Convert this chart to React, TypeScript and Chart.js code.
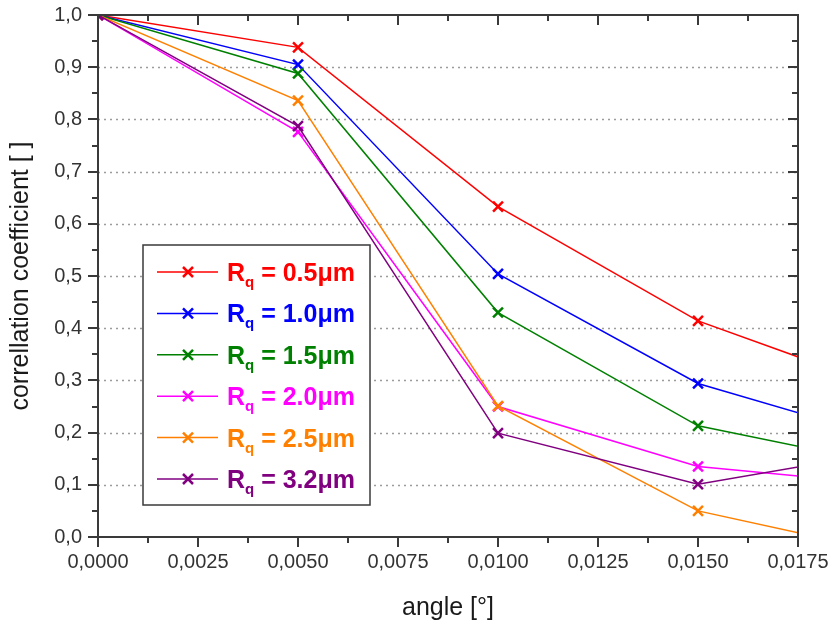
import React, { useEffect, useRef } from 'react';
import { Chart, registerables } from 'chart.js';
Chart.register(...registerables);

// angle values (°) at which the correlation was measured
const angles = [0, 0.005, 0.01, 0.015, 0.02];
const seriesNames = ['0.5μm', '1.0μm', '1.5μm', '2.0μm', '2.5μm', '3.2μm'];
const rq05 = [1.0, 0.938, 0.633, 0.414, 0.276];
const rq10 = [1.0, 0.905, 0.504, 0.294, 0.182];
const rq15 = [1.0, 0.888, 0.43, 0.213, 0.135];
const rq20 = [1.0, 0.776, 0.25, 0.135, 0.099];
const rq25 = [1.0, 0.836, 0.251, 0.05, -0.034];
const rq32 = [1.0, 0.787, 0.199, 0.101, 0.167];
const seriesValues = [rq05, rq10, rq15, rq20, rq25, rq32];
const seriesColors = ['#ff0000', '#0000ff', '#008000', '#ff00ff', '#ff8000', '#800080'];

const xMin = 0;
const xMax = 0.0175;
const xStep = 0.0025;
const yMin = 0;
const yMax = 1;
const yStep = 0.1;

const FONT = "'Liberation Sans', Arial, sans-serif";
const AXIS_COLOR = '#3a3a3a';

const decorPlugin = {
  id: 'decor',
  beforeDatasetsDraw(chart: any) {
    const { ctx, chartArea: a, scales } = chart;
    const y = scales.y;
    ctx.save();
    ctx.strokeStyle = '#9c9c9c';
    ctx.lineWidth = 1.6;
    ctx.setLineDash([2, 4]);
    for (let k = 1; k < 10; k++) {
      const py = Math.round(y.getPixelForValue(yMin + k * yStep)) + 0.5;
      ctx.beginPath();
      ctx.moveTo(a.left, py);
      ctx.lineTo(a.right, py);
      ctx.stroke();
    }
    ctx.restore();
  },
  afterDatasetsDraw(chart: any) {
    const { ctx, chartArea: a, scales } = chart;
    const x = scales.x;
    const y = scales.y;
    ctx.save();
    ctx.strokeStyle = AXIS_COLOR;
    ctx.lineWidth = 2;
    ctx.strokeRect(a.left, a.top, a.right - a.left, a.bottom - a.top);
    ctx.lineWidth = 2;
    const nx = Math.round((xMax - xMin) / (xStep / 2));
    for (let k = 0; k <= nx; k++) {
      const px = Math.round(x.getPixelForValue(xMin + (k * xStep) / 2));
      const len = k % 2 === 0 ? 10 : 6;
      ctx.beginPath();
      ctx.moveTo(px, a.bottom);
      ctx.lineTo(px, a.bottom + len);
      ctx.moveTo(px, a.top);
      ctx.lineTo(px, a.top + len);
      ctx.stroke();
    }
    const ny = Math.round((yMax - yMin) / (yStep / 2));
    for (let k = 0; k <= ny; k++) {
      const py = Math.round(y.getPixelForValue(yMin + (k * yStep) / 2));
      const len = k % 2 === 0 ? 10 : 6;
      ctx.beginPath();
      ctx.moveTo(a.left, py);
      ctx.lineTo(a.left - len, py);
      ctx.moveTo(a.right, py);
      ctx.lineTo(a.right - len, py);
      ctx.stroke();
    }

    // legend
    const bx = a.left + 45;
    const by = a.top + 230;
    const bw = 227;
    const bh = 260;
    ctx.fillStyle = '#ffffff';
    ctx.fillRect(bx, by, bw, bh);
    ctx.strokeStyle = AXIS_COLOR;
    ctx.lineWidth = 1.5;
    ctx.strokeRect(bx, by, bw, bh);
    seriesNames.forEach((name, i) => {
      const cy = by + 27 + i * 41.4;
      const col = seriesColors[i];
      ctx.strokeStyle = col;
      ctx.lineWidth = 1.5;
      ctx.beginPath();
      ctx.moveTo(bx + 14, cy);
      ctx.lineTo(bx + 75, cy);
      ctx.stroke();
      ctx.lineWidth = 2.5;
      const cx = bx + 45;
      const r = 5;
      ctx.beginPath();
      ctx.moveTo(cx - r, cy - r);
      ctx.lineTo(cx + r, cy + r);
      ctx.moveTo(cx - r, cy + r);
      ctx.lineTo(cx + r, cy - r);
      ctx.stroke();
      ctx.fillStyle = col;
      ctx.textBaseline = 'alphabetic';
      ctx.textAlign = 'left';
      let tx = bx + 84;
      ctx.font = `bold 25px ${FONT}`;
      ctx.fillText('R', tx, cy + 9);
      tx += ctx.measureText('R').width;
      ctx.font = `bold 15px ${FONT}`;
      ctx.fillText('q', tx, cy + 15);
      tx += ctx.measureText('q').width;
      ctx.font = `bold 25px ${FONT}`;
      ctx.fillText(' = ' + name, tx, cy + 9);
    });
    ctx.restore();
  },
};

export default function App() {
  const ref = useRef<HTMLCanvasElement | null>(null);
  useEffect(() => {
    if (!ref.current) return;
    const datasets = seriesValues.map((vals, i) => ({
      label: 'Rq = ' + seriesNames[i],
      data: angles.map((a, j) => ({ x: a, y: vals[j] })),
      borderColor: seriesColors[i],
      backgroundColor: seriesColors[i],
      pointBorderColor: seriesColors[i],
      borderWidth: 1.5,
      pointStyle: 'crossRot',
      pointRadius: 7,
      pointBorderWidth: 2.5,
      showLine: true,
      fill: false,
      tension: 0,
      clip: 0,
      order: seriesValues.length - 1 - i,
    }));
    const chart = new Chart(ref.current, {
      type: 'scatter',
      data: { datasets } as any,
      options: {
        animation: false,
        responsive: true,
        maintainAspectRatio: false,
        layout: { padding: { top: 15, right: 37, left: 0, bottom: 0 } },
        plugins: { legend: { display: false }, tooltip: { enabled: false } },
        scales: {
          x: {
            type: 'linear',
            min: xMin,
            max: xMax,
            afterFit: (s: any) => {
              s.height = 88;
              s.paddingLeft = 0;
              s.paddingRight = 0;
              s.paddingTop = 0;
              s.paddingBottom = 0;
            },
            ticks: {
              stepSize: xStep,
              padding: 13,
              color: '#333',
              font: { family: FONT, size: 20 },
              callback: (v: any) => Number(v).toFixed(4).replace('.', ','),
            },
            grid: { display: false, drawTicks: false },
            border: { display: false },
            title: {
              display: true,
              text: 'angle [°]',
              color: '#1a1a1a',
              font: { family: FONT, size: 25 },
              padding: { top: 2, bottom: 2 },
            },
          },
          y: {
            type: 'linear',
            min: yMin,
            max: yMax,
            afterFit: (s: any) => {
              s.width = 98;
              s.paddingLeft = 0;
              s.paddingRight = 0;
              s.paddingTop = 0;
              s.paddingBottom = 0;
            },
            ticks: {
              stepSize: yStep,
              padding: 16,
              color: '#333',
              font: { family: FONT, size: 20 },
              callback: (v: any) => Number(v).toFixed(1).replace('.', ','),
            },
            grid: { display: false, drawTicks: false },
            border: { display: false },
            title: {
              display: true,
              text: 'correllation coefficient [ ]',
              color: '#1a1a1a',
              font: { family: FONT, size: 25 },
              padding: { top: 6, bottom: 6 },
            },
          },
        },
      },
      plugins: [decorPlugin],
    } as any);
    return () => chart.destroy();
  }, []);
  return (
    <div style={{ position: 'fixed', left: 0, top: 0, width: 835, height: 625, background: '#fff' }}>
      <canvas ref={ref} />
    </div>
  );
}
